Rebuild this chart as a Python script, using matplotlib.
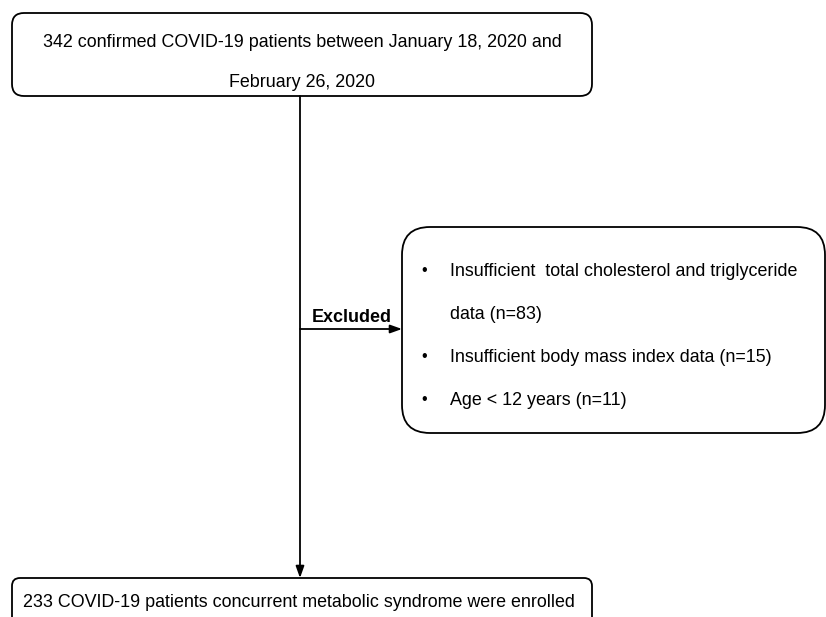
import matplotlib
matplotlib.use("Agg")
import matplotlib.pyplot as plt
from matplotlib.patches import FancyBboxPatch

# ---------------------------------------------------
# Dati del diagramma di flusso
# ---------------------------------------------------
n_confirmed = 342
n_enrolled = 233
exclusion_reasons = ["Insufficient  total cholesterol and triglyceride\ndata",
                     "Insufficient body mass index data",
                     "Age < 12 years"]
exclusion_counts = [83, 15, 11]

top_lines = [f"{n_confirmed} confirmed COVID-19 patients between January 18, 2020 and",
             "February 26, 2020"]
excluded_label = "Excluded"
bottom_text = f"{n_enrolled} COVID-19 patients concurrent metabolic syndrome were enrolled"

FONT = "Liberation Sans"
FS = 12.9
LW = 1.3

# ---------------------------------------------------
# Figura in coordinate pixel
# ---------------------------------------------------
fig = plt.figure(figsize=(8.26, 6.17), dpi=100)
ax = fig.add_axes([0, 0, 1, 1])
ax.set_xlim(0, 826)
ax.set_ylim(617, 0)
ax.axis("off")


def box(x0, y0, x1, y1, r):
    p = FancyBboxPatch((x0, y0), x1 - x0, y1 - y0,
                       boxstyle=f"round,pad=0,rounding_size={r}",
                       fc="white", ec="black", lw=LW)
    ax.add_patch(p)


def arrow(x0, y0, x1, y1):
    ax.annotate("", xy=(x1, y1), xytext=(x0, y0),
                arrowprops=dict(arrowstyle="-|>,head_length=0.7,head_width=0.25",
                                mutation_scale=10, lw=LW, color="black",
                                shrinkA=0, shrinkB=0))


# ---- riquadro superiore ----
box(12, 13, 592, 96, 12)
for i, line in enumerate(top_lines):
    ax.text(302, 47 + 40 * i, line, ha="center", va="baseline",
            fontsize=FS, family=FONT)

# ---- freccia verticale ----
arrow(300, 96, 300, 578)

# ---- freccia esclusi ----
arrow(300, 329, 402, 329)
ax.text(352, 322, excluded_label, ha="center", va="baseline",
        fontsize=FS, family=FONT, fontweight="bold")

# ---- riquadro esclusioni ----
box(402, 227, 825, 433, 28)
y = 276
for reason, n in zip(exclusion_reasons, exclusion_counts):
    lines = f"{reason} (n={n})".split("\n")
    ax.text(424, y - 1, "\u2022", ha="center", va="baseline",
            fontsize=FS * 0.9, family=FONT)
    for line in lines:
        ax.text(450, y, line, ha="left", va="baseline",
                fontsize=FS, family=FONT)
        y += 43

# ---- riquadro finale ----
box(12, 578, 592, 660, 8)
ax.text(299, 607, bottom_text, ha="center", va="baseline",
        fontsize=FS, family=FONT)

fig.savefig("out.png", dpi=100, facecolor="white")
